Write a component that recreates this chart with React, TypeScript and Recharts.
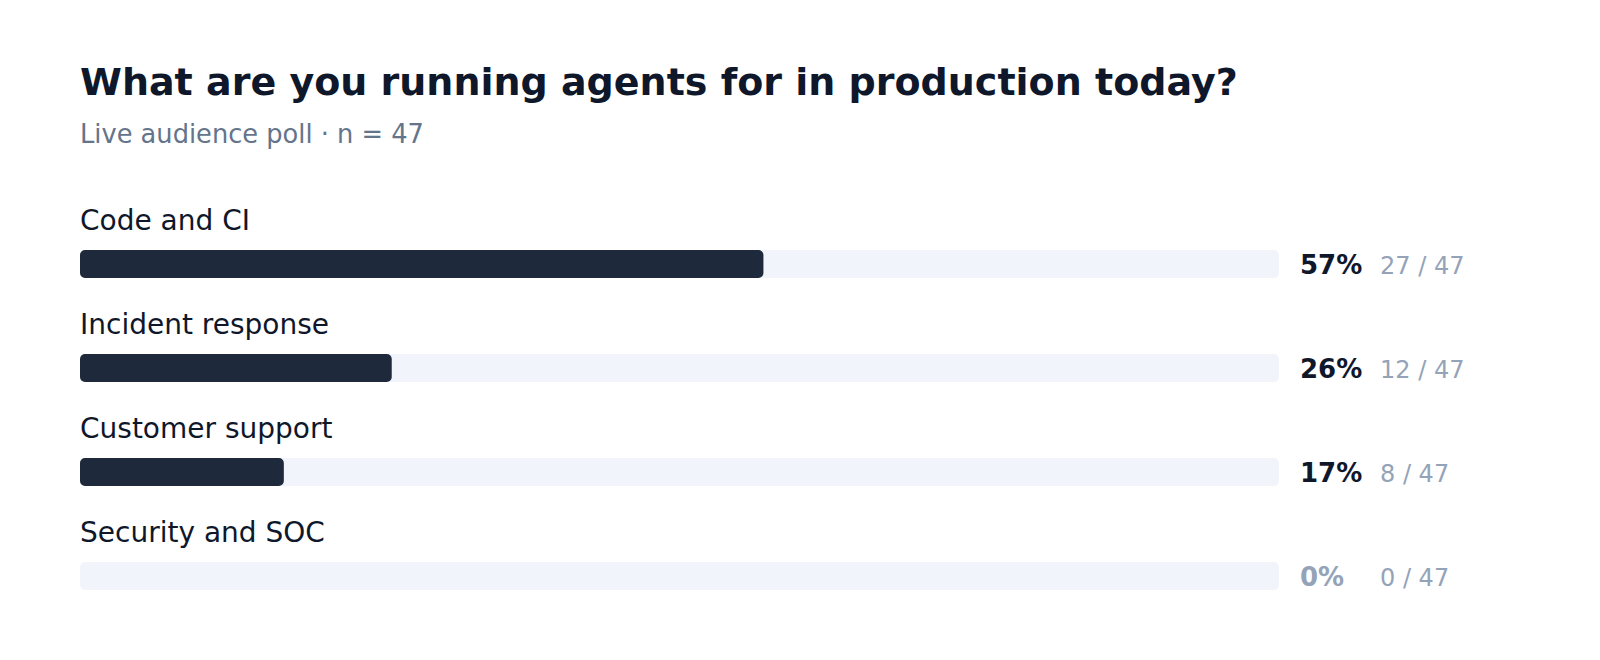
import React from "react";
import { BarChart, Bar, XAxis, YAxis, LabelList } from "recharts";

const categories = ["Code and CI", "Incident response", "Customer support", "Security and SOC"];
const percents = [57, 26, 17, 0];
const counts = [27, 12, 8, 0];
const total = 47;
const trackMax = 100;
const title = "What are you running agents for in production today?";
const subtitle = "Live audience poll · n = 47";

const data = categories.map((name, i) => ({
  name,
  track: trackMax,
  pct: percents[i],
  count: counts[i],
}));

const FONT = "'DejaVu Sans', Verdana, sans-serif";

const CategoryLabel = (props: any) => {
  const { y, index } = props;
  return (
    <text x={80} y={Number(y) - 20} fontFamily={FONT} fontSize={28} fill="#0f172a">
      {categories[index]}
    </text>
  );
};

const ValueLabel = (props: any) => {
  const { y, height, index } = props;
  const cy = Number(y) + Number(height) / 2 + 9.5;
  const p = percents[index];
  return (
    <g>
      <text
        x={1300}
        y={cy}
        fontFamily={FONT}
        fontSize={26}
        fontWeight="bold"
        fill={p > 0 ? "#0f172a" : "#94a3b8"}
      >
        {`${p}%`}
      </text>
      <text x={1380} y={cy} fontFamily={FONT} fontSize={24} fill="#94a3b8">
        {`${counts[index]} / ${total}`}
      </text>
    </g>
  );
};

export default function App() {
  return (
    <div
      style={{
        position: "absolute",
        left: 0,
        top: 0,
        width: 1600,
        height: 660,
        background: "#ffffff",
        overflow: "hidden",
      }}
    >
      <svg width={1600} height={170} style={{ position: "absolute", left: 0, top: 0 }}>
        <text x={80} y={95} fontFamily={FONT} fontSize={38} fontWeight="bold" fill="#0f172a">
          {title}
        </text>
        <text x={80} y={143} fontFamily={FONT} fontSize={25.7} fill="#64748b">
          {subtitle}
        </text>
      </svg>
      <div style={{ position: "absolute", left: 0, top: 0 }}>
        <BarChart
          width={1600}
          height={660}
          data={data}
          layout="vertical"
          barGap={-28}
          margin={{ top: 212, right: 321, bottom: 32, left: 80 }}
        >
          <XAxis type="number" domain={[0, trackMax]} hide />
          <YAxis type="category" dataKey="name" hide />
          <Bar
            dataKey="track"
            barSize={28}
            fill="#f1f5fb"
            radius={5}
            isAnimationActive={false}
          >
            <LabelList dataKey="name" content={<CategoryLabel />} />
            <LabelList dataKey="pct" content={<ValueLabel />} />
          </Bar>
          <Bar
            dataKey="pct"
            barSize={28}
            fill="#1e293b"
            radius={5}
            isAnimationActive={false}
          />
        </BarChart>
      </div>
    </div>
  );
}
